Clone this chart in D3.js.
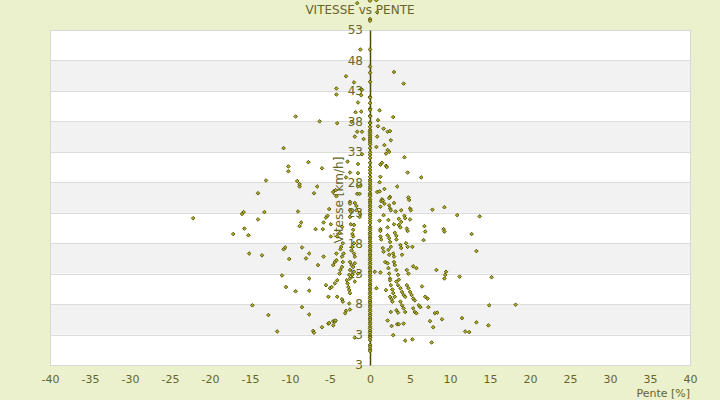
<!DOCTYPE html>
<html>
<head>
<meta charset="utf-8">
<script src="https://cdn.jsdelivr.net/npm/d3@7"></script>
<style>
  body { margin: 0; background: #ebf0cd; }
  svg { display: block; font-family: "DejaVu Sans", sans-serif; }
</style>
</head>
<body>
<div id="container"></div>
<script>
const TITLE = 'VITESSE vs PENTE';
const X_LABEL = 'Pente [%]';
const Y_LABEL = 'Vitesse [km/h]';

const xTicks = [-40, -35, -30, -25, -20, -15, -10, -5, 0, 5, 10, 15, 20, 25, 30, 35, 40];
const yTicks = [53, 48, 43, 38, 33, 28, 23, 18, 13, 8, 3, -2];
const yTickLabels = ['53', '48', '43', '38', '33', '28', '23', '18', '13', '8', '3', '3'];

// speeds recorded at exactly 0 % slope
const zeroSlopeSpeeds = [
  57.8, 54.8, 54.5, 49.8, 47.0, 46.0, 44.5, 42.0, 41.9, 41.0, 40.1, 39.9, 38.9, 38.8,
  37.8, 37.7, 37.1, 36.6, 36.3, 36.0, 35.7, 35.4, 35.1, 34.8, 34.5, 34.2, 33.6, 32.9,
  32.5, 32.0, 31.2, 30.5, 30.0, 29.5, 28.9, 28.4, 28.1, 27.7, 27.3, 27.0, 26.7, 26.2,
  25.9, 25.7, 25.2, 24.9, 24.6, 24.2, 23.9, 23.5, 23.2, 22.8, 22.5, 22.1, 21.7, 21.3,
  20.7, 20.4, 20.1, 19.7, 19.4, 19.0, 18.7, 18.3, 18.0, 17.6, 17.3, 16.9, 16.6, 16.2,
  15.9, 15.5, 15.2, 14.8, 14.5, 14.1, 13.8, 13.4, 13.1, 12.7, 12.4, 12.0, 11.7, 11.3,
  11.0, 10.6, 10.3, 9.9, 9.6, 9.2, 8.9, 8.5, 8.2, 7.8, 7.5, 7.1, 6.8, 6.4, 6.1, 5.7,
  5.4, 5.0, 4.7, 4.3, 4.0, 3.6, 3.3, 2.9, 2.6, 2.5, 2.1, 1.3, 1.0, 0.6, 0.3
];

// [pente, vitesse]
const steepPoints = [
  [-9.3, 38.8], [-10.8, 33.6], [-10.2, 30.6], [-10.2, 29.8], [-7.7, 31.3], [-13.0, 28.3],
  [-9.1, 28.2], [-8.8, 27.3], [-14.0, 26.2], [-13.2, 23.1], [-9.0, 23.2], [-15.8, 23.1],
  [-16.0, 22.8], [-22.1, 22.1], [-14.0, 21.9], [-8.6, 21.4], [-8.8, 20.8], [-15.7, 20.4],
  [-17.1, 19.5], [-15.2, 19.3], [-10.8, 17.0], [-10.6, 17.3], [-8.5, 17.3], [-7.6, 16.3],
  [-15.1, 16.3], [-13.5, 16.0], [-10.1, 15.4], [-8.0, 15.5], [-11.0, 12.7], [-7.6, 12.2],
  [-10.5, 10.8], [-9.3, 10.1], [-7.6, 10.2], [-14.7, 7.8], [-8.5, 7.5], [-7.6, 6.3],
  [-12.7, 6.2], [-11.6, 3.5],
  [9.3, 23.9], [10.9, 22.6], [13.7, 22.4], [9.2, 20.3], [9.3, 19.9], [12.7, 19.5],
  [13.3, 16.7], [9.5, 13.3], [9.4, 12.8], [9.3, 12.2], [11.2, 12.5], [15.2, 12.4],
  [14.9, 7.8], [18.2, 7.9], [9.0, 5.5], [11.5, 5.7], [13.3, 5.0], [14.8, 4.5],
  [11.9, 3.5], [12.4, 3.4]
];

const fastPoints = [
  [-1.6, 57.4], [0.8, 57.9], [0.9, 55.9], [-1.2, 49.8], [-3.0, 45.4], [-2.0, 44.4],
  [3.0, 46.1], [4.2, 44.2], [-4.2, 43.4], [-4.2, 42.4], [-1.1, 43.3], [-1.0, 43.2],
  [-1.1, 42.3], [-1.5, 41.1], [1.2, 39.8], [-1.8, 39.5], [-1.1, 39.6], [-6.3, 38.0],
  [-4.1, 37.7], [-2.3, 37.9], [1.0, 38.2], [2.9, 38.7], [1.0, 37.2], [1.7, 36.8],
  [-1.6, 36.3], [-1.0, 36.3], [2.2, 36.3], [2.5, 36.4], [0.9, 35.5], [2.6, 34.9],
  [-1.9, 35.5], [-0.8, 35.1], [1.8, 34.1], [0.8, 33.8], [2.2, 33.3], [2.4, 33.0],
  [2.0, 32.7], [-1.0, 32.6], [4.3, 32.1], [-6.0, 30.3], [-2.8, 31.4], [-1.5, 31.0],
  [1.3, 30.9], [1.5, 31.2], [2.0, 30.7], [2.1, 30.5], [4.7, 29.6], [1.3, 28.9],
  [-2.5, 29.6], [-1.5, 29.5], [-3.0, 28.8], [6.4, 28.8], [1.2, 28.0]
];

const midPoints = [
  [-8.8, 27.7], [-6.6, 27.3], [-1.2, 27.4], [-1.5, 27.3], [3.4, 27.3], [1.8, 26.9],
  [0.9, 26.4], [1.2, 26.5], [-7.0, 26.2], [-4.3, 26.7], [-4.6, 26.4], [-1.6, 26.1],
  [-1.3, 26.1], [2.5, 25.6], [2.4, 25.4], [4.8, 25.5], [4.9, 25.1], [-4.2, 25.7],
  [1.5, 25.2], [1.4, 24.9], [1.6, 25.0], [1.8, 24.5], [3.0, 24.6], [-2.5, 24.8],
  [-2.5, 24.5], [-1.7, 24.1], [-1.9, 24.6], [-5.1, 23.6], [1.3, 24.0], [2.4, 24.2],
  [2.5, 23.7], [2.6, 23.4], [3.9, 23.4], [5.0, 23.7], [5.1, 23.4], [7.8, 23.5],
  [-2.5, 23.4], [-2.4, 23.2], [-1.3, 22.9], [-1.7, 23.4], [3.2, 23.2], [1.7, 22.6],
  [3.6, 22.0], [3.9, 21.5], [4.3, 22.5], [4.4, 22.1], [5.0, 21.9], [-5.3, 22.5],
  [-5.5, 22.2], [-5.8, 21.4], [1.2, 21.7], [2.3, 21.8], [-2.5, 22.3], [-1.3, 22.3],
  [-6.8, 20.3], [-5.9, 20.3], [-4.9, 21.1], [-3.5, 20.7], [-2.4, 21.1], [-2.0, 21.0],
  [1.3, 20.3], [1.3, 20.0], [2.2, 20.6], [3.0, 21.1], [3.6, 21.0], [3.8, 20.6],
  [4.6, 20.4], [4.7, 20.0], [6.8, 20.8], [6.9, 19.9], [-3.8, 19.7], [-4.1, 19.1],
  [-2.1, 20.2], [-2.2, 19.5], [-4.9, 19.1], [-5.8, 15.8], [-3.4, 18.0], [-3.6, 17.4],
  [-3.7, 17.0], [-2.1, 19.1], [-2.0, 18.0], [-2.2, 17.4], [-2.3, 16.8], [1.3, 19.1],
  [1.4, 18.6], [2.2, 19.3], [2.4, 18.8], [2.5, 18.2], [2.6, 17.4], [3.1, 19.7],
  [3.3, 19.2], [3.3, 18.6], [3.8, 17.7], [3.9, 17.2], [4.5, 18.0], [4.7, 17.4],
  [5.3, 17.4], [6.7, 18.5], [1.6, 17.2], [1.7, 16.6], [2.3, 16.9], [2.4, 16.1],
  [2.9, 16.3], [3.0, 15.8], [-3.3, 16.3], [-3.5, 15.8], [-2.0, 16.3], [-1.9, 15.8],
  [-4.2, 16.3], [4.0, 16.1]
];

const slowPoints = [
  [-6.5, 14.4], [-4.6, 14.4], [-4.4, 14.9], [-4.2, 15.2], [-3.4, 14.9], [-3.5, 14.1],
  [-3.7, 13.6], [-3.8, 13.0], [-2.5, 14.9], [-2.3, 14.4], [-2.5, 13.6], [-2.6, 12.8],
  [-2.5, 12.2], [-1.9, 14.7], [-2.1, 14.1], [-2.0, 13.3], [-2.2, 12.8], [-1.5, 13.0],
  [0.6, 13.3], [1.3, 13.2], [1.9, 14.9], [2.2, 14.7], [2.3, 13.9], [2.4, 13.0],
  [2.5, 12.2], [3.0, 14.9], [3.1, 14.4], [3.3, 13.6], [3.5, 12.8], [3.6, 12.0],
  [4.6, 13.6], [4.8, 13.0], [5.4, 14.2], [5.8, 13.9], [8.3, 13.6], [-5.5, 11.1],
  [-5.0, 10.6], [-4.8, 10.8], [-4.4, 11.4], [-4.1, 11.9], [-2.9, 11.9], [-2.8, 11.4],
  [-2.7, 10.8], [-2.6, 10.3], [-2.5, 9.8], [-1.9, 11.7], [-4.1, 9.2], [-3.5, 8.8],
  [-3.4, 8.4], [-5.2, 9.2], [0.8, 10.6], [2.0, 10.3], [2.5, 11.9], [2.6, 11.1],
  [2.8, 10.4], [2.9, 9.8], [3.1, 9.2], [3.3, 11.7], [3.5, 11.1], [3.8, 10.6],
  [4.0, 10.0], [4.2, 9.5], [4.4, 9.2], [4.6, 11.1], [4.8, 10.6], [5.0, 10.0],
  [5.2, 9.5], [5.4, 8.9], [5.6, 8.6], [6.5, 10.9], [6.9, 9.2], [7.2, 8.9],
  [2.5, 9.2], [2.7, 8.8], [2.8, 8.4], [3.8, 8.4], [4.0, 7.8], [4.2, 7.3],
  [4.4, 6.7], [3.3, 7.0], [3.5, 6.6], [2.6, 6.7], [5.4, 7.3], [5.6, 6.7],
  [5.8, 6.5], [6.1, 7.8], [6.3, 7.5], [7.3, 7.5], [8.1, 6.5], [8.4, 6.6],
  [7.5, 5.2], [7.9, 4.2], [-2.6, 8.1], [-2.5, 7.1], [-3.0, 6.9], [-3.1, 6.5],
  [-4.6, 5.2], [-4.4, 5.1], [-4.3, 5.3], [-5.2, 4.8], [-5.1, 4.9], [-4.6, 4.5],
  [-6.0, 4.2], [-7.1, 3.6], [-7.0, 3.3], [-1.9, 2.5], [2.2, 5.3], [2.7, 4.4],
  [3.4, 4.7], [3.6, 4.7], [4.2, 4.8], [2.9, 2.9], [4.4, 2.0], [5.3, 2.2], [7.7, 1.7]
];

const width = 720;
const height = 400;
const margin = { top: 30, right: 30, bottom: 35, left: 50 };
const textColor = '#66662a';

const svg = d3.select('#container').append('svg')
  .attr('width', width)
  .attr('height', height);

const x = d3.scaleLinear()
  .domain([-40, 40])
  .range([margin.left, width - margin.right]);

const y = d3.scaleLinear()
  .domain([-2, 53])
  .range([height - margin.bottom, margin.top]);

// plot area with alternating bands
svg.append('rect')
  .attr('x', x(-40))
  .attr('y', y(53))
  .attr('width', x(40) - x(-40))
  .attr('height', y(-2) - y(53))
  .attr('fill', '#fff');

svg.append('g')
  .selectAll('rect')
  .data(d3.pairs(yTicks).filter((d, i) => i % 2 === 1))
  .join('rect')
    .attr('x', x(-40))
    .attr('y', d => y(d[0]))
    .attr('width', x(40) - x(-40))
    .attr('height', d => y(d[1]) - y(d[0]))
    .attr('fill', '#f2f2f2');

svg.append('g')
  .selectAll('line')
  .data(yTicks)
  .join('line')
    .attr('x1', x(-40))
    .attr('x2', x(40))
    .attr('y1', d => Math.round(y(d)) + 0.5)
    .attr('y2', d => Math.round(y(d)) + 0.5)
    .attr('stroke', '#dcdcdc');

svg.append('rect')
  .attr('x', x(-40) + 0.5)
  .attr('y', y(53) + 0.5)
  .attr('width', x(40) - x(-40))
  .attr('height', y(-2) - y(53))
  .attr('fill', 'none')
  .attr('stroke', '#d8d8d8');

// x axis
const xAxis = svg.append('g')
  .attr('transform', `translate(0,${y(-2)})`)
  .call(d3.axisBottom(x).tickValues(xTicks).tickFormat(d => String(d))
    .tickSize(0).tickPadding(10));
xAxis.select('.domain').remove();
xAxis.selectAll('text')
  .attr('fill', textColor)
  .style('font-size', '11px')
  .style('font-family', '"DejaVu Sans", sans-serif');

// y axis through 0 %
const yAxis = svg.append('g')
  .attr('transform', `translate(${x(0)},0)`)
  .call(d3.axisLeft(y).tickValues(yTicks).tickFormat((d, i) => yTickLabels[i])
    .tickSize(0).tickPadding(7));
yAxis.select('.domain')
  .attr('stroke', '#4d4d00')
  .attr('stroke-width', 1.5);
yAxis.selectAll('text')
  .attr('fill', textColor)
  .style('font-size', '12px')
  .style('font-family', '"DejaVu Sans", sans-serif');

// labels (drawn under the points, as in the original)
svg.append('text')
  .attr('x', width / 2)
  .attr('y', 14)
  .attr('text-anchor', 'middle')
  .attr('fill', textColor)
  .style('font-size', '12px')
  .text(TITLE);

svg.append('text')
  .attr('x', x(40))
  .attr('y', 397)
  .attr('text-anchor', 'end')
  .attr('fill', textColor)
  .style('font-size', '11px')
  .text(X_LABEL);

svg.append('text')
  .attr('transform', `translate(343,200) rotate(-90)`)
  .attr('text-anchor', 'middle')
  .attr('fill', textColor)
  .style('font-size', '12px')
  .text(Y_LABEL);

// points
const allPoints = zeroSlopeSpeeds.map(v => [0, v])
  .concat(steepPoints, fastPoints, midPoints, slowPoints);

const diamond = 'M0,-1.8L1.8,0L0,1.8L-1.8,0Z';

svg.append('g')
  .selectAll('path')
  .data(allPoints)
  .join('path')
    .attr('transform', d => `translate(${x(d[0])},${y(d[1])})`)
    .attr('d', diamond)
    .attr('fill', '#b0b025')
    .attr('stroke', '#4d4d00')
    .attr('stroke-width', 0.9);
</script>
</body>
</html>
